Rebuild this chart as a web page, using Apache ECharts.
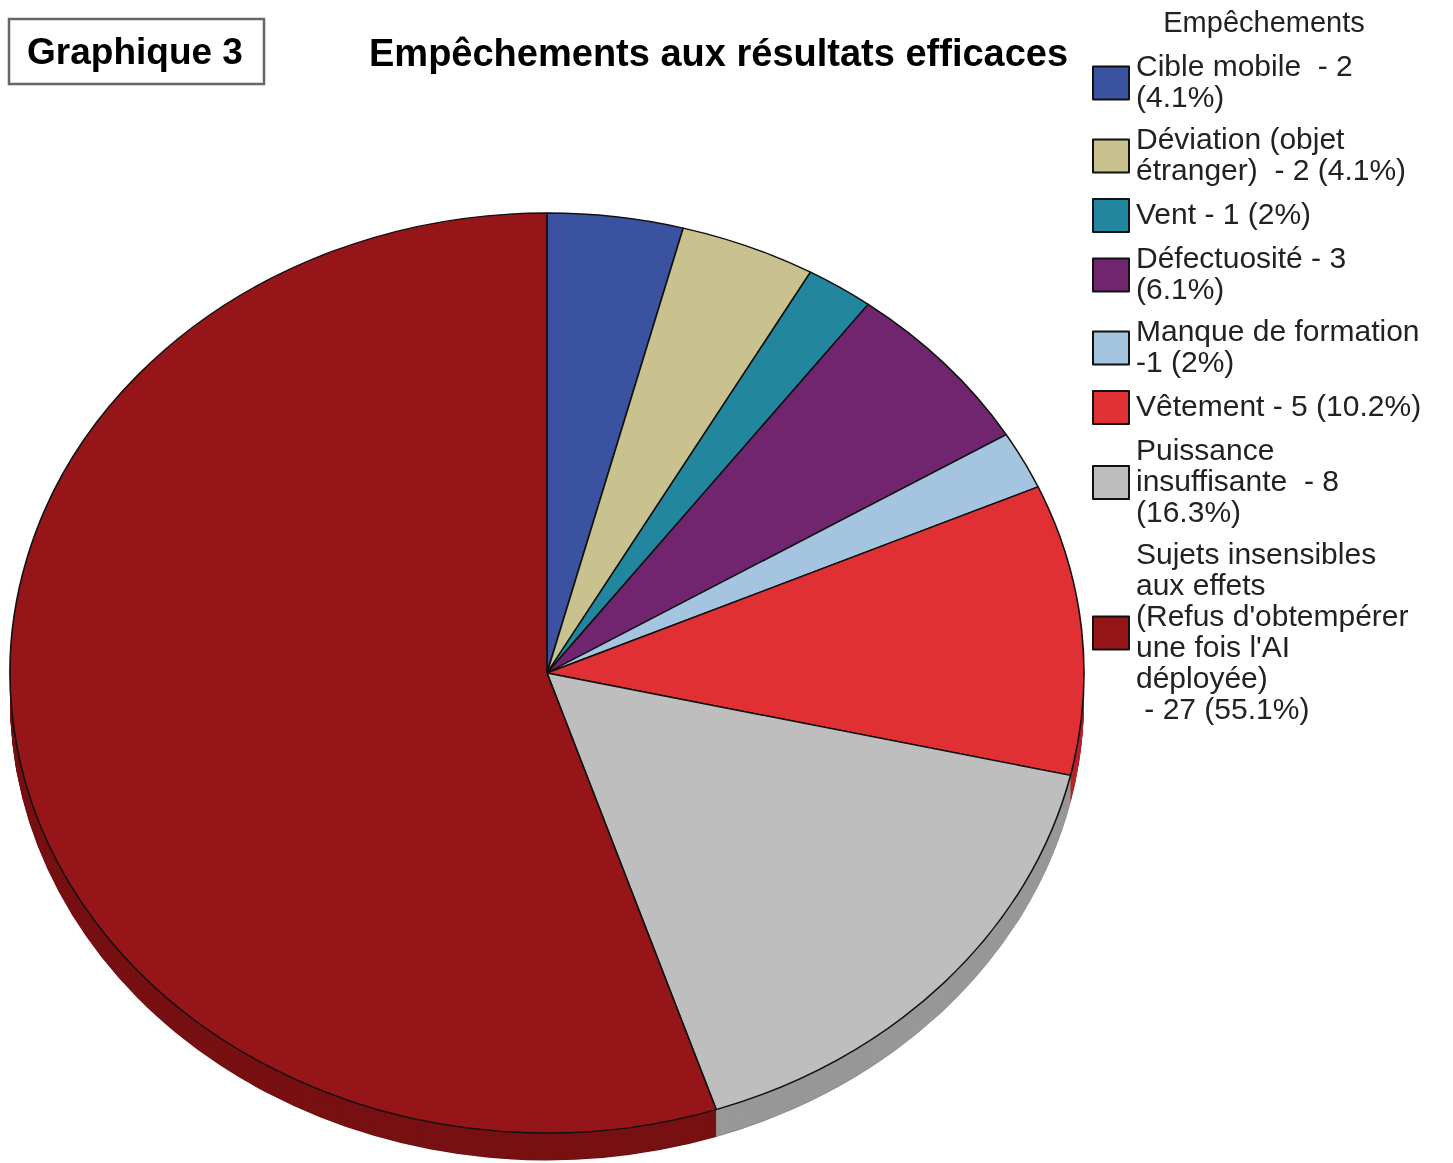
<!DOCTYPE html>
<html>
<head>
<meta charset="utf-8">
<script src="https://cdn.jsdelivr.net/npm/echarts@6/dist/echarts.min.js"></script>
<style>
html, body { margin: 0; padding: 0; background: #fff; }
#wrap { position: relative; width: 1453px; height: 1163px; overflow: hidden; background: #fff; }
#pie { position: absolute; left: 0; top: 0; width: 1453px; height: 1360px; transform-origin: 0 0; }
#txt { position: absolute; left: 0; top: 0; width: 1453px; height: 1163px; }
</style>
</head>
<body>
<div id="wrap"><div id="pie"></div><div id="txt"></div></div>
<script>
// legend labels, as printed (line breaks included)
var labels = [
    'Cible mobile  - 2\n(4.1%)',
    'Déviation (objet\nétranger)  - 2 (4.1%)',
    'Vent - 1 (2%)',
    'Défectuosité - 3\n(6.1%)',
    'Manque de formation\n-1 (2%)',
    'Vêtement - 5 (10.2%)',
    'Puissance\ninsuffisante  - 8\n(16.3%)',
    'Sujets insensibles\naux effets\n(Refus d\'obtempérer\nune fois l\'AI\ndéployée)\n - 27 (55.1%)'
];
var counts = [2, 2, 1, 3, 1, 5, 8, 27];
var colors = ['#3B52A0', '#C9C28E', '#23869F', '#71256F', '#A4C4E0', '#E03034', '#BEBEBE', '#961518'];

var tilt = 0.8566;   // vertical squash of the pie (3d look)
var depth = 32;      // thickness of the side, in unscaled px
var cx = 547, cy = 673 / tilt, R = 537;

function darken(hex, f) {
    var n = parseInt(hex.slice(1), 16);
    var r = Math.round(((n >> 16) & 255) * f),
        g = Math.round(((n >> 8) & 255) * f),
        b = Math.round((n & 255) * f);
    return 'rgb(' + r + ',' + g + ',' + b + ')';
}

function pieData(f) {
    return labels.map(function (name, i) {
        return {
            name: name,
            value: counts[i],
            itemStyle: { color: f ? darken(colors[i], f) : colors[i] }
        };
    });
}

document.getElementById('pie').style.transform = 'scaleY(' + tilt + ')';

// pie: side layers first, then the top face
var series = [];
for (var d = depth; d >= 1; d--) {
    series.push({
        type: 'pie',
        silent: true,
        center: [cx, cy + d],
        radius: [0, R],
        startAngle: 90,
        label: { show: false },
        labelLine: { show: false },
        emphasis: { disabled: true },
        itemStyle: { borderWidth: 0 },
        data: pieData(d === depth ? 0.72 : 0.8)
    });
}
series.push({
    type: 'pie',
    silent: true,
    center: [cx, cy],
    radius: [0, R],
    startAngle: 90,
    label: { show: false },
    labelLine: { show: false },
    emphasis: { disabled: true },
    itemStyle: { borderColor: '#111', borderWidth: 1.6 },
    data: pieData(0)
});

var pieChart = echarts.init(document.getElementById('pie'), null, { renderer: 'svg' });
pieChart.setOption({ animation: false, series: series });

// texts + legend (not squashed)
var txtChart = echarts.init(document.getElementById('txt'));
txtChart.setOption({
    animation: false,
    textStyle: { fontFamily: '"Liberation Sans", Arial, sans-serif' },
    graphic: [
        {
            type: 'rect',
            shape: { x: 9, y: 19, width: 255, height: 65 },
            style: { fill: '#fff', stroke: '#666', lineWidth: 2.5 }
        },
        {
            type: 'text',
            x: 135, y: 54,
            style: {
                text: 'Graphique 3', fill: '#000',
                font: 'bold 37px "Liberation Sans", Arial, sans-serif',
                align: 'center', verticalAlign: 'middle'
            }
        },
        {
            type: 'text',
            x: 369, y: 56,
            style: {
                text: 'Empêchements aux résultats efficaces', fill: '#000',
                font: 'bold 38px "Liberation Sans", Arial, sans-serif',
                align: 'left', verticalAlign: 'middle'
            }
        },
        {
            type: 'text',
            x: 1264, y: 24,
            style: {
                text: 'Empêchements', fill: '#222',
                font: '29px "Liberation Sans", Arial, sans-serif',
                align: 'center', verticalAlign: 'middle'
            }
        }
    ],
    legend: {
        orient: 'vertical',
        left: 1092,
        top: 52,
        padding: 0,
        itemGap: 11,
        itemWidth: 36,
        itemHeight: 33,
        icon: 'rect',
        selectedMode: false,
        itemStyle: { borderColor: '#111', borderWidth: 2 },
        textStyle: {
            fontFamily: '"Liberation Sans", Arial, sans-serif',
            fontSize: 30,
            lineHeight: 31,
            color: '#222',
            padding: [0, 0, 0, 2]
        },
        data: labels
    },
    series: [{
        type: 'pie',
        silent: true,
        center: [cx, 673],
        radius: [0, 0],
        label: { show: false },
        labelLine: { show: false },
        data: pieData(0)
    }]
});
</script>
</body>
</html>
